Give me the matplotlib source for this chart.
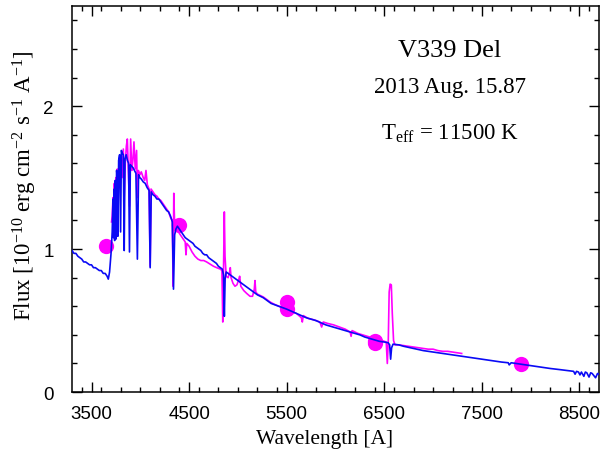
import numpy as np
import matplotlib
matplotlib.use('Agg')
import matplotlib.pyplot as plt
from matplotlib.ticker import MultipleLocator

plt.rcParams['mathtext.fontset'] = 'custom'
plt.rcParams['mathtext.rm'] = 'Liberation Serif'
plt.rcParams['mathtext.it'] = 'Liberation Serif:italic'

# widmo niebieskie (model / pelny zakres)
blue_wl = [3300, 3320, 3340, 3360, 3380, 3400, 3420, 3440, 3460, 3480,
           3500, 3520, 3540, 3560, 3580, 3600, 3620, 3640, 3660, 3672,
           3685, 3700, 3712, 3720, 3726, 3732, 3737, 3743, 3750, 3757,
           3764, 3770, 3778, 3788, 3798, 3806, 3816, 3826, 3835, 3843,
           3855, 3868, 3880, 3889, 3898, 3910, 3925, 3940, 3955, 3970,
           3982, 3995, 4010, 4030, 4050, 4070, 4090, 4101, 4112, 4130,
           4150, 4170, 4190, 4210, 4230, 4250, 4270, 4290, 4310, 4328,
           4340, 4352, 4365, 4380, 4400, 4420, 4440, 4460, 4480, 4500,
           4520, 4540, 4560, 4580, 4600, 4620, 4640, 4660, 4680, 4700,
           4720, 4740, 4760, 4780, 4800, 4820, 4840, 4853, 4861, 4869,
           4880, 4900, 4920, 4940, 4960, 4980, 5000, 5020, 5040, 5060,
           5080, 5100, 5120, 5140, 5160, 5180, 5200, 5230, 5260, 5300,
           5340, 5380, 5420, 5460, 5500, 5550, 5600, 5650, 5700, 5750,
           5800, 5850, 5900, 5950, 6000, 6050, 6100, 6150, 6200, 6250,
           6300, 6350, 6400, 6450, 6500, 6540, 6555, 6565, 6575, 6590,
           6650, 6700, 6800, 6900, 7000, 7100, 7200, 7300, 7400, 7500,
           7600, 7700, 7770, 7780, 7800, 7900, 8000, 8100, 8200, 8300,
           8400, 8440, 8455, 8470, 8490, 8505, 8520, 8545, 8560, 8575,
           8598, 8615, 8630, 8665, 8685, 8700]
blue_flux = [0.99, 0.97, 0.97, 0.95, 0.94, 0.93, 0.91, 0.91, 0.90, 0.89,
             0.89, 0.87, 0.87, 0.86, 0.85, 0.85, 0.83, 0.83, 0.81, 0.79,
             0.84, 0.97, 1.12, 1.35, 1.08, 1.42, 1.06, 1.48, 1.07, 1.55,
             1.50, 1.09, 1.62, 1.66, 1.12, 1.69, 1.67, 1.66, 0.99, 1.63,
             1.66, 1.62, 1.60, 0.98, 1.59, 1.58, 1.57, 1.55, 1.53, 0.93,
             1.52, 1.50, 1.49, 1.47, 1.46, 1.43, 1.41, 0.87, 1.40, 1.38,
             1.37, 1.35, 1.35, 1.33, 1.31, 1.29, 1.27, 1.26, 1.23, 1.19,
             0.72, 1.10, 1.14, 1.16, 1.14, 1.12, 1.10, 1.08, 1.07, 1.06,
             1.05, 1.04, 1.02, 1.01, 1.00, 0.99, 0.97, 0.96, 0.96, 0.94,
             0.93, 0.92, 0.91, 0.90, 0.88, 0.87, 0.86, 0.82, 0.53, 0.79,
             0.84, 0.83, 0.82, 0.81, 0.80, 0.79, 0.78, 0.77, 0.76, 0.75,
             0.74, 0.73, 0.72, 0.71, 0.70, 0.69, 0.68, 0.67, 0.66, 0.64,
             0.62, 0.61, 0.60, 0.59, 0.58, 0.565, 0.55, 0.535, 0.52, 0.51,
             0.50, 0.485, 0.47, 0.46, 0.45, 0.44, 0.43, 0.42, 0.41, 0.40,
             0.385, 0.375, 0.365, 0.355, 0.35, 0.345, 0.33, 0.23, 0.31, 0.335,
             0.33, 0.32, 0.305, 0.29, 0.28, 0.27, 0.26, 0.25, 0.24, 0.23,
             0.22, 0.21, 0.205, 0.19, 0.205, 0.195, 0.185, 0.175, 0.165, 0.157,
             0.148, 0.145, 0.125, 0.145, 0.14, 0.12, 0.14, 0.11, 0.14, 0.135,
             0.105, 0.135, 0.13, 0.10, 0.13, 0.125]

# widmo magenta (obserwacja)
mag_wl = [3705, 3712, 3720, 3727, 3734, 3741, 3749, 3756, 3764, 3772,
          3783, 3794, 3804, 3814, 3826, 3835, 3846, 3857, 3867, 3879,
          3889, 3901, 3913, 3924, 3935, 3948, 3962, 3970, 3980, 3995,
          4010, 4030, 4045, 4058, 4072, 4090, 4101, 4110, 4130, 4150,
          4170, 4190, 4210, 4230, 4250, 4270, 4290, 4310, 4328, 4336,
          4343, 4352, 4365, 4380, 4400, 4420, 4440, 4460, 4468, 4476,
          4500, 4530, 4560, 4590, 4620, 4650, 4680, 4714, 4750, 4783,
          4820, 4836, 4845, 4855, 4861, 4868, 4880, 4900, 4915, 4922,
          4930, 4950, 4970, 4990, 5010, 5018, 5030, 5060, 5090, 5124,
          5150, 5168, 5175, 5183, 5200, 5230, 5260, 5300, 5330, 5370,
          5420, 5460, 5500, 5550, 5600, 5650, 5660, 5670, 5720, 5780,
          5840, 5858, 5875, 5920, 5980, 6040, 6100, 6150, 6160, 6170,
          6230, 6300, 6350, 6400, 6450, 6500, 6520, 6531, 6541, 6550,
          6560, 6572, 6582, 6595, 6610, 6650, 6700, 6750, 6800, 6850,
          6900, 6950, 7000, 7050, 7100, 7150, 7200, 7250, 7293]
mag_flux = [1.19, 1.23, 1.36, 1.22, 1.46, 1.26, 1.50, 1.30, 1.56, 1.40,
            1.62, 1.45, 1.63, 1.50, 1.70, 1.37, 1.60, 1.72, 1.77, 1.52,
            1.30, 1.77, 1.55, 1.62, 1.75, 1.56, 1.69, 1.36, 1.55, 1.52,
            1.54, 1.50, 1.48, 1.55, 1.45, 1.42, 0.88, 1.42, 1.40, 1.38,
            1.37, 1.35, 1.34, 1.32, 1.30, 1.28, 1.26, 1.22, 1.20, 0.74,
            1.39, 1.16, 1.13, 1.15, 1.11, 1.09, 1.07, 1.05, 0.96, 1.04,
            1.02, 0.98, 0.95, 0.93, 0.92, 0.92, 0.91, 0.895, 0.88, 0.87,
            0.86, 0.85, 0.49, 0.95, 1.26, 0.95, 0.81, 0.80, 0.84, 0.87,
            0.80, 0.76, 0.74, 0.75, 0.79, 0.81, 0.74, 0.71, 0.69, 0.67,
            0.67, 0.72, 0.78, 0.70, 0.685, 0.675, 0.665, 0.645, 0.63, 0.615,
            0.60, 0.59, 0.575, 0.56, 0.55, 0.52, 0.49, 0.535, 0.515, 0.505,
            0.49, 0.455, 0.49, 0.48, 0.47, 0.455, 0.44, 0.42, 0.39, 0.43,
            0.41, 0.395, 0.385, 0.375, 0.365, 0.355, 0.35, 0.20, 0.36, 0.70,
            0.755, 0.75, 0.55, 0.36, 0.33, 0.33, 0.325, 0.32, 0.315, 0.31,
            0.305, 0.30, 0.30, 0.29, 0.285, 0.285, 0.28, 0.275, 0.27]

# fotometria UBVRI
phot_wl = [3650, 4400, 5500, 5500, 6400, 6400, 7900]
phot_flux = [1.02, 1.17, 0.63, 0.58, 0.36, 0.345, 0.196]

fig = plt.figure(figsize=(6.04, 4.56), dpi=100)
ax = fig.add_axes([0.1192, 0.138, 0.8725, 0.8466])

ax.plot(phot_wl, phot_flux, 'o', color='#ff00ff', markersize=11, markeredgewidth=0, zorder=1)
ax.plot(mag_wl, mag_flux, color='#ff00ff', lw=1.2, zorder=2)
ax.plot(blue_wl, blue_flux, color='#0a0af5', lw=1.2, zorder=3)

ax.set_xlim(3300, 8700)
ax.set_ylim(0, 2.7)
ax.xaxis.set_minor_locator(MultipleLocator(200))
ax.set_xticks([3500, 4500, 5500, 6500, 7500, 8500])
ax.yaxis.set_major_locator(MultipleLocator(1))
ax.yaxis.set_minor_locator(MultipleLocator(0.2))
ax.tick_params(which='both', direction='in', top=True, right=True, width=1)
ax.tick_params(which='major', length=7)
ax.tick_params(which='minor', length=3.5)
ax.tick_params(axis='x', which='major', pad=9)
ax.tick_params(axis='y', which='major', pad=13)
for lab in ax.get_xticklabels() + ax.get_yticklabels():
    lab.set_family('Liberation Sans')
    lab.set_fontsize(13.5)
for s in ax.spines.values():
    s.set_linewidth(1.1)

ax.set_xlabel('Wavelength [A]', family='Liberation Serif', fontsize=15.5)
ax.xaxis.set_label_coords(0.48, -0.095)
ax.set_ylabel(r'Flux [10$^{-10}$ erg cm$^{-2}$ s$^{-1}$ A$^{-1}$]', family='Liberation Serif', fontsize=16.5)
ax.yaxis.set_label_coords(-0.062, 0.536)

ax.text(0.717, 0.887, 'V339 Del', transform=ax.transAxes, ha='center', va='center',
        family='Liberation Serif', fontsize=19)
ax.text(0.717, 0.791, '2013 Aug. 15.87', transform=ax.transAxes, ha='center', va='center',
        family='Liberation Serif', fontsize=16.5)
ax.text(0.717, 0.672, r'T$_{\mathrm{eff}}$ = 11500 K', transform=ax.transAxes, ha='center', va='center',
        family='Liberation Serif', fontsize=16.5)

fig.savefig('out.png', dpi=100)
